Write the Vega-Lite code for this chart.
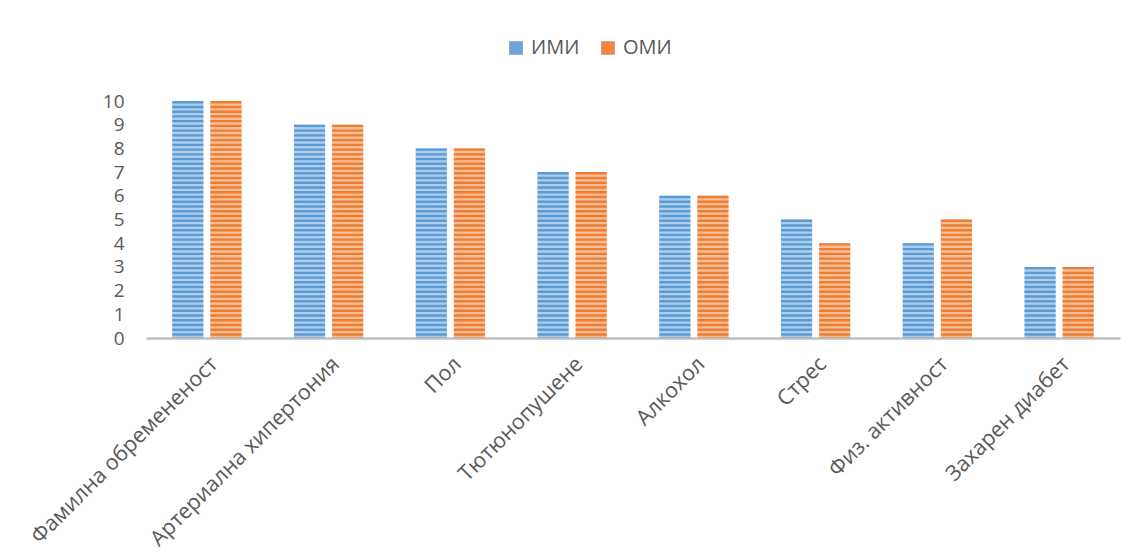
{
  "$schema": "https://vega.github.io/schema/vega-lite/v6.json",
  "width": 974,
  "height": 237,
  "autosize": "none",
  "padding": {"left": 146, "top": 101, "right": 14, "bottom": 222},
  "background": "white",
  "config": {"view": {"stroke": null}, "font": "Open Sans"},
  "data": {
    "values": [
      {"factor": "Фамилна обремененост", "group": "ИМИ", "count": 10},
      {"factor": "Фамилна обремененост", "group": "ОМИ", "count": 10},
      {"factor": "Артериална хипертония", "group": "ИМИ", "count": 9},
      {"factor": "Артериална хипертония", "group": "ОМИ", "count": 9},
      {"factor": "Пол", "group": "ИМИ", "count": 8},
      {"factor": "Пол", "group": "ОМИ", "count": 8},
      {"factor": "Тютюнопушене", "group": "ИМИ", "count": 7},
      {"factor": "Тютюнопушене", "group": "ОМИ", "count": 7},
      {"factor": "Алкохол", "group": "ИМИ", "count": 6},
      {"factor": "Алкохол", "group": "ОМИ", "count": 6},
      {"factor": "Стрес", "group": "ИМИ", "count": 5},
      {"factor": "Стрес", "group": "ОМИ", "count": 4},
      {"factor": "Физ. активност", "group": "ИМИ", "count": 4},
      {"factor": "Физ. активност", "group": "ОМИ", "count": 5},
      {"factor": "Захарен диабет", "group": "ИМИ", "count": 3},
      {"factor": "Захарен диабет", "group": "ОМИ", "count": 3}
    ]
  },
  "encoding": {
    "x": {
      "field": "factor",
      "type": "nominal",
      "sort": null,
      "scale": {"paddingInner": 0.43, "paddingOuter": 0.215},
      "axis": {
        "title": null,
        "labelAngle": -45,
        "labelFontSize": 21.5,
        "labelLimit": 400,
        "labelColor": "#595959",
        "labelPadding": 15,
        "labelDx": -6,
        "ticks": false,
        "domainColor": "#BFBFBF",
        "domainWidth": 2.5
      }
    },
    "xOffset": {
      "field": "group",
      "type": "nominal",
      "sort": ["ИМИ", "ОМИ"],
      "scale": {"paddingInner": 0.18, "paddingOuter": 0}
    },
    "y": {
      "field": "count",
      "type": "quantitative",
      "scale": {"domain": [0, 10], "nice": false},
      "axis": {
        "title": null,
        "values": [0, 1, 2, 3, 4, 5, 6, 7, 8, 9, 10],
        "domain": false,
        "ticks": false,
        "grid": false,
        "labelFontSize": 19,
        "labelColor": "#595959",
        "labelPadding": 22,
        "labelOverlap": false
      }
    }
  },
  "layer": [
    {
      "mark": {"type": "bar", "opacity": 0.5},
      "encoding": {
        "color": {
          "field": "group",
          "type": "nominal",
          "sort": ["ИМИ", "ОМИ"],
          "scale": {"range": ["#5B9BD5", "#ED7D31"]},
          "legend": {
            "orient": "none",
            "legendX": 360,
            "legendY": -63,
            "direction": "horizontal",
            "title": null,
            "symbolType": "square",
            "symbolSize": 150,
            "symbolOpacity": 0.9,
            "labelFontSize": 20,
            "labelColor": "#595959",
            "labelOffset": 5,
            "columnPadding": 18
          }
        }
      }
    },
    {
      "mark": {"type": "rule", "strokeWidth": 31, "strokeCap": "butt", "strokeDash": [2.4, 2.34]},
      "encoding": {
        "y2": {"datum": 0},
        "color": {
          "field": "group",
          "type": "nominal",
          "sort": ["ИМИ", "ОМИ"],
          "scale": {"range": ["#5B9BD5", "#ED7D31"]},
          "legend": null
        }
      }
    }
  ]
}
